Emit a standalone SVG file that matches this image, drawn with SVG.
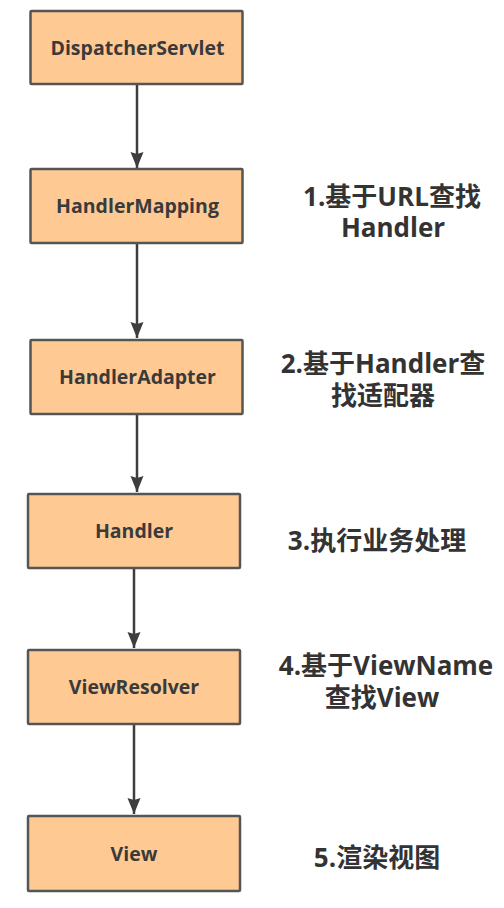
<svg xmlns="http://www.w3.org/2000/svg" width="504" height="908" viewBox="0 0 504 908">
<style>
.box{fill:#FFC994;stroke:#555;stroke-width:2.5}
.bt{font-family:"Open Sans","Noto Sans",sans-serif;font-weight:bold;font-size:19.5px;fill:#3a3a3a;text-anchor:middle}
.lt{font-family:"Open Sans","Noto Sans CJK SC",sans-serif;font-weight:bold;font-size:26px;fill:#333;text-anchor:middle}
.con{stroke:#3d3d3d;stroke-width:2.5;fill:none;marker-end:url(#ah)}
</style>
<defs>
<marker id="ah" markerUnits="userSpaceOnUse" viewBox="0 -7 17 14" markerWidth="17" markerHeight="14" refX="16" refY="0" orient="auto">
<path d="M0,-6.5 L16,0 L0,6.5 L2,0 Z" fill="#3d3d3d"/>
</marker>
</defs>
<rect width="504" height="908" fill="#fff"/>
<g id="connectors">
<path class="con" d="M137,84 V168"/>
<path class="con" d="M137,243 V338"/>
<path class="con" d="M137,414 V492"/>
<path class="con" d="M134,568 V648"/>
<path class="con" d="M134,724 V814"/>
</g>
<g id="dispatcherServlet"><rect class="box" x="30.5" y="11" width="212" height="73" rx="1"/><text class="bt" x="137.5" y="55">DispatcherServlet</text></g>
<g id="handlerMapping"><rect class="box" x="30.5" y="169" width="212" height="74" rx="1"/><text class="bt" x="137.5" y="213">HandlerMapping</text></g>
<g id="handlerAdapter"><rect class="box" x="30.5" y="340" width="212" height="74" rx="1"/><text class="bt" x="137.5" y="384">HandlerAdapter</text></g>
<g id="handler"><rect class="box" x="28" y="494" width="212" height="74" rx="1"/><text class="bt" x="134" y="538">Handler</text></g>
<g id="viewResolver"><rect class="box" x="28" y="650" width="212" height="74" rx="1"/><text class="bt" x="134" y="694">ViewResolver</text></g>
<g id="view"><rect class="box" x="28" y="816" width="212" height="75" rx="1"/><text class="bt" x="134" y="861">View</text></g>
<g id="label1"><text class="lt" x="392" y="206">1.基于URL查找</text><text class="lt" x="393" y="237">Handler</text></g>
<g id="label2"><text class="lt" x="383" y="373">2.基于Handler查</text><text class="lt" x="383" y="405">找适配器</text></g>
<g id="label3"><text class="lt" x="377" y="550">3.执行业务处理</text></g>
<g id="label4"><text class="lt" x="386" y="675">4.基于ViewName</text><text class="lt" x="382" y="707">查找View</text></g>
<g id="label5"><text class="lt" x="377" y="867">5.渲染视图</text></g>
</svg>
